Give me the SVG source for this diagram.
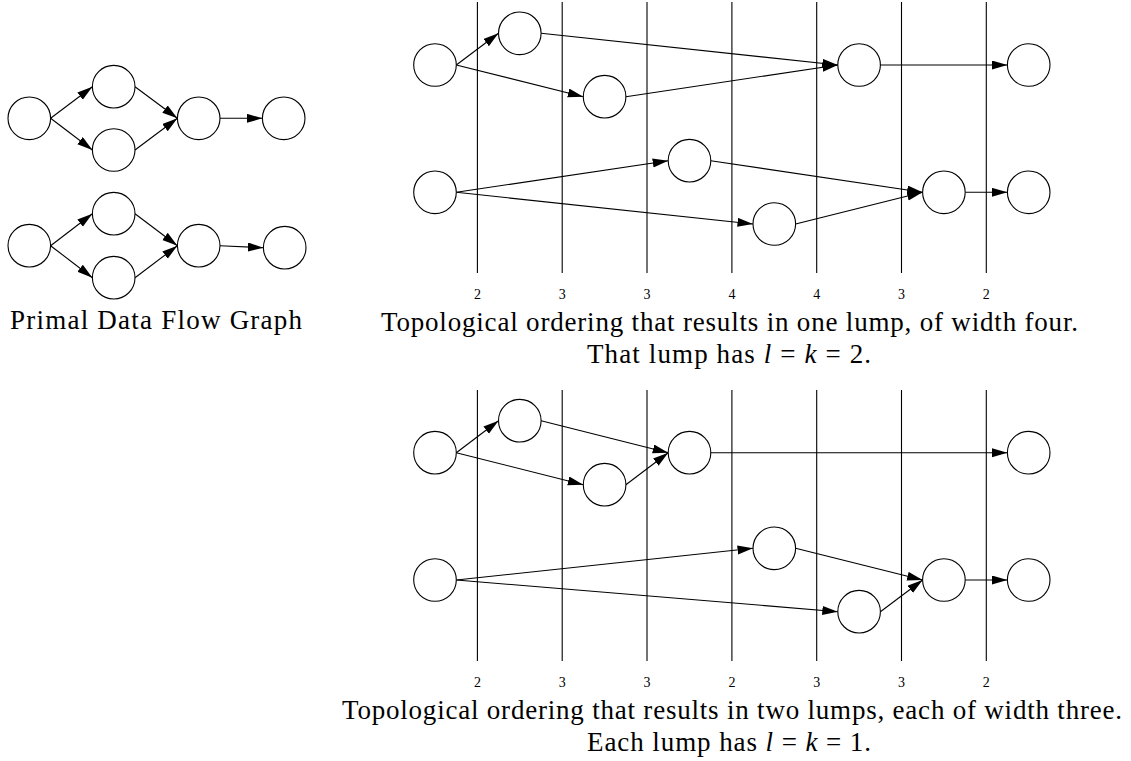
<svg xmlns="http://www.w3.org/2000/svg" width="1131" height="761" viewBox="0 0 1131 761">
<style>
.n{fill:#fff;stroke:#000;stroke-width:1.1}
.e{fill:none;stroke:#000;stroke-width:1.1;marker-end:url(#ah)}
.v{stroke:#000;stroke-width:1.1}
.num{font-family:"Liberation Serif",serif;font-size:14px;text-anchor:middle;fill:#000}
.cap{font-family:"Liberation Serif",serif;font-size:27px;fill:#000}
</style>
<defs>
<marker id="ah" markerUnits="userSpaceOnUse" markerWidth="17" markerHeight="10" refX="15.5" refY="4.5" orient="auto">
<path d="M0,0 L15.5,4.5 L0,9 z" fill="#000"/>
</marker>
</defs>
<rect width="1131" height="761" fill="#fff"/>

<g id="separators">
<g id="sep-top">
<line class="v" x1="477.4" y1="2" x2="477.4" y2="273"/>
<line class="v" x1="562.2" y1="2" x2="562.2" y2="273"/>
<line class="v" x1="647" y1="2" x2="647" y2="273"/>
<line class="v" x1="731.9" y1="2" x2="731.9" y2="273"/>
<line class="v" x1="816.7" y1="2" x2="816.7" y2="273"/>
<line class="v" x1="901.5" y1="2" x2="901.5" y2="273"/>
<line class="v" x1="986.3" y1="2" x2="986.3" y2="273"/>
</g>
<g id="sep-bottom">
<line class="v" x1="477.4" y1="390" x2="477.4" y2="661"/>
<line class="v" x1="562.2" y1="390" x2="562.2" y2="661"/>
<line class="v" x1="647" y1="390" x2="647" y2="661"/>
<line class="v" x1="731.9" y1="390" x2="731.9" y2="661"/>
<line class="v" x1="816.7" y1="390" x2="816.7" y2="661"/>
<line class="v" x1="901.5" y1="390" x2="901.5" y2="661"/>
<line class="v" x1="986.3" y1="390" x2="986.3" y2="661"/>
</g>
</g>

<g id="connectors">
<line class="e" x1="50.6" y1="118.3" x2="92.4" y2="86.7"/>
<line class="e" x1="50.6" y1="118.3" x2="92.4" y2="150"/>
<line class="e" x1="135" y1="86.7" x2="177.4" y2="118.3"/>
<line class="e" x1="135" y1="150" x2="177.4" y2="118.3"/>
<line class="e" x1="220" y1="118.3" x2="262.4" y2="118.3"/>
<line class="e" x1="50.6" y1="245.7" x2="92.4" y2="213.7"/>
<line class="e" x1="50.6" y1="245.7" x2="92.4" y2="277.7"/>
<line class="e" x1="135" y1="213.7" x2="177.4" y2="245.7"/>
<line class="e" x1="135" y1="277.7" x2="177.4" y2="245.7"/>
<line class="e" x1="220" y1="245.7" x2="263.4" y2="247.7"/>
<line class="e" x1="456.3" y1="65" x2="498.5" y2="33.3"/>
<line class="e" x1="456.3" y1="65" x2="583.3" y2="96.7"/>
<line class="e" x1="541.1" y1="33.3" x2="837.8" y2="65"/>
<line class="e" x1="625.9" y1="96.7" x2="837.8" y2="65"/>
<line class="e" x1="880.4" y1="65" x2="1007.4" y2="65"/>
<line class="e" x1="456.3" y1="192.3" x2="668.2" y2="160.7"/>
<line class="e" x1="456.3" y1="192.3" x2="753" y2="224"/>
<line class="e" x1="710.8" y1="160.7" x2="922.6" y2="192.3"/>
<line class="e" x1="795.6" y1="224" x2="922.6" y2="192.3"/>
<line class="e" x1="965.2" y1="192.3" x2="1007.4" y2="192.3"/>
<line class="e" x1="456.3" y1="452.7" x2="498.5" y2="420.7"/>
<line class="e" x1="456.3" y1="452.7" x2="583.3" y2="484.7"/>
<line class="e" x1="541.1" y1="420.7" x2="668.2" y2="452.7"/>
<line class="e" x1="625.9" y1="484.7" x2="668.2" y2="452.7"/>
<line class="e" x1="710.8" y1="452.7" x2="1007.4" y2="452.7"/>
<line class="e" x1="456.3" y1="580" x2="753" y2="548.3"/>
<line class="e" x1="456.3" y1="580" x2="837.8" y2="611.7"/>
<line class="e" x1="795.6" y1="548.3" x2="922.6" y2="580"/>
<line class="e" x1="880.4" y1="611.7" x2="922.6" y2="580"/>
<line class="e" x1="965.2" y1="580" x2="1007.4" y2="580"/>
</g>

<g id="primal-top">
<circle id="p1a" class="n" cx="29.3" cy="118.3" r="21.3"/>
<circle id="p1b" class="n" cx="113.7" cy="86.7" r="21.3"/>
<circle id="p1c" class="n" cx="113.7" cy="150" r="21.3"/>
<circle id="p1d" class="n" cx="198.7" cy="118.3" r="21.3"/>
<circle id="p1e" class="n" cx="283.7" cy="118.3" r="21.3"/>
</g>
<g id="primal-bottom">
<circle id="p2a" class="n" cx="29.3" cy="245.7" r="21.3"/>
<circle id="p2b" class="n" cx="113.7" cy="213.7" r="21.3"/>
<circle id="p2c" class="n" cx="113.7" cy="277.7" r="21.3"/>
<circle id="p2d" class="n" cx="198.7" cy="245.7" r="21.3"/>
<circle id="p2e" class="n" cx="284.7" cy="247.7" r="21.3"/>
</g>

<g id="order1-nodes">
<circle id="t1a" class="n" cx="435" cy="65" r="21.3"/>
<circle id="t1b" class="n" cx="519.8" cy="33.3" r="21.3"/>
<circle id="t1c" class="n" cx="604.6" cy="96.7" r="21.3"/>
<circle id="t1d" class="n" cx="859.1" cy="65" r="21.3"/>
<circle id="t1e" class="n" cx="1028.7" cy="65" r="21.3"/>
<circle id="t2a" class="n" cx="435" cy="192.3" r="21.3"/>
<circle id="t2b" class="n" cx="689.5" cy="160.7" r="21.3"/>
<circle id="t2c" class="n" cx="774.3" cy="224" r="21.3"/>
<circle id="t2d" class="n" cx="943.9" cy="192.3" r="21.3"/>
<circle id="t2e" class="n" cx="1028.7" cy="192.3" r="21.3"/>
</g>

<g id="order2-nodes">
<circle id="b1a" class="n" cx="435" cy="452.7" r="21.3"/>
<circle id="b1b" class="n" cx="519.8" cy="420.7" r="21.3"/>
<circle id="b1c" class="n" cx="604.6" cy="484.7" r="21.3"/>
<circle id="b1d" class="n" cx="689.5" cy="452.7" r="21.3"/>
<circle id="b1e" class="n" cx="1028.7" cy="452.7" r="21.3"/>
<circle id="b2a" class="n" cx="435" cy="580" r="21.3"/>
<circle id="b2b" class="n" cx="774.3" cy="548.3" r="21.3"/>
<circle id="b2c" class="n" cx="859.1" cy="611.7" r="21.3"/>
<circle id="b2d" class="n" cx="943.9" cy="580" r="21.3"/>
<circle id="b2e" class="n" cx="1028.7" cy="580" r="21.3"/>
</g>

<g id="widths-top">
<text class="num" x="477.4" y="299">2</text>
<text class="num" x="562.2" y="299">3</text>
<text class="num" x="647" y="299">3</text>
<text class="num" x="731.9" y="299">4</text>
<text class="num" x="816.7" y="299">4</text>
<text class="num" x="901.5" y="299">3</text>
<text class="num" x="986.3" y="299">2</text>
</g>
<g id="widths-bottom">
<text class="num" x="477.4" y="687">2</text>
<text class="num" x="562.2" y="687">3</text>
<text class="num" x="647" y="687">3</text>
<text class="num" x="731.9" y="687">2</text>
<text class="num" x="816.7" y="687">3</text>
<text class="num" x="901.5" y="687">3</text>
<text class="num" x="986.3" y="687">2</text>
</g>

<g id="captions">
<text class="cap" x="10" y="329" textLength="292" lengthAdjust="spacing">Primal Data Flow Graph</text>
<text class="cap" x="381" y="331" textLength="697" lengthAdjust="spacing">Topological ordering that results in one lump, of width four.</text>
<text class="cap" x="587" y="363" textLength="284" lengthAdjust="spacing">That lump has <tspan font-style="italic">l</tspan> = <tspan font-style="italic">k</tspan> = 2.</text>
<text class="cap" x="342" y="719" textLength="780" lengthAdjust="spacing">Topological ordering that results in two lumps, each of width three.</text>
<text class="cap" x="587" y="751" textLength="284" lengthAdjust="spacing">Each lump has <tspan font-style="italic">l</tspan> = <tspan font-style="italic">k</tspan> = 1.</text>
</g>
</svg>
